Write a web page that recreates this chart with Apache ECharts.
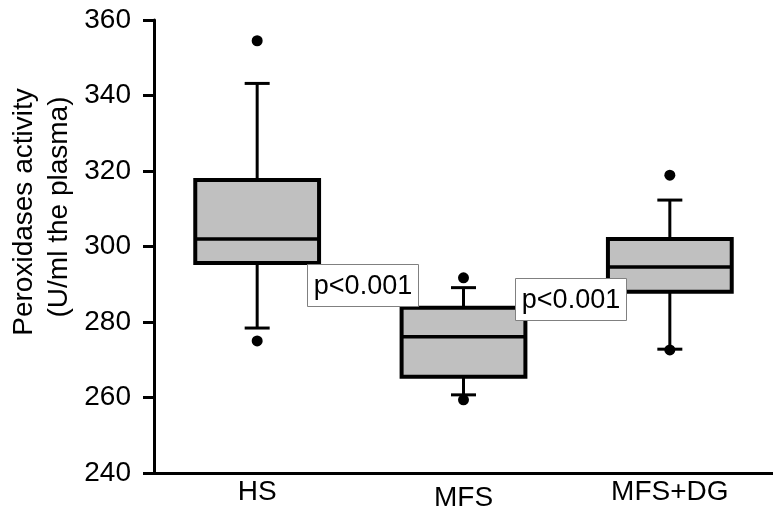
<!DOCTYPE html>
<html>
<head>
<meta charset="utf-8">
<script src="https://cdn.jsdelivr.net/npm/echarts@6/dist/echarts.min.js"></script>
<style>
  html, body { margin: 0; padding: 0; background: #fff; }
  #chart { width: 773px; height: 514px; }
</style>
</head>
<body>
<div id="chart"></div>
<script>
var categories = ['HS', 'MFS', 'MFS+DG'];
var whiskerLow = [278.4, 260.7, 272.8];
var q1 = [295.6, 265.5, 288.0];
var median = [302.0, 276.1, 294.6];
var q3 = [317.6, 283.8, 302.0];
var whiskerHigh = [343.2, 289.1, 312.3];
// outliers: [category index, value]
var outliers = [[0, 354.5], [0, 275.0], [1, 291.7], [1, 259.4], [2, 318.9], [2, 272.6]];
var yTicks = [240, 260, 280, 300, 320, 340, 360];

var font = 'Liberation Sans, Arial, sans-serif';

var boxData = []
for (let i = 0; i < categories.length; i++) {
    boxData.push([i, whiskerLow[i], q1[i], median[i], q3[i], whiskerHigh[i]])
}

function renderBox(params, api) {
    let x = api.value(0)
    let lo = api.coord([x, api.value(1)])
    let b1 = api.coord([x, api.value(2)])
    let md = api.coord([x, api.value(3)])
    let b3 = api.coord([x, api.value(4)])
    let hi = api.coord([x, api.value(5)])
    let bw = api.size([1, 0])[0] * 0.6
    let cw = 25
    let cx = md[0]
    let line = { stroke: '#000', lineWidth: 3 }
    return {
        type: 'group',
        children: [
            { type: 'line', shape: { x1: cx, y1: hi[1], x2: cx, y2: b3[1] }, style: line },
            { type: 'line', shape: { x1: cx, y1: b1[1], x2: cx, y2: lo[1] }, style: line },
            { type: 'line', shape: { x1: cx - cw / 2, y1: hi[1], x2: cx + cw / 2, y2: hi[1] }, style: line },
            { type: 'line', shape: { x1: cx - cw / 2, y1: lo[1], x2: cx + cw / 2, y2: lo[1] }, style: line },
            { type: 'rect', shape: { x: cx - bw / 2, y: b3[1], width: bw, height: b1[1] - b3[1] },
              style: { fill: '#c0c0c0', stroke: '#000', lineWidth: 4 } },
            { type: 'line', shape: { x1: cx - bw / 2, y1: md[1], x2: cx + bw / 2, y2: md[1] },
              style: { stroke: '#000', lineWidth: 3.5 } }
        ]
    }
}

function pLabel(left, top) {
    return {
        type: 'group', left: left, top: top, z: 100, zlevel: 1,
        children: [
            { type: 'rect', z: 100, shape: { x: 0, y: 0, width: 111, height: 42 },
              style: { fill: '#fff', stroke: '#808080', lineWidth: 1 } },
            { type: 'text', z: 101, x: 55.5, y: 22,
              style: { text: 'p<0.001', font: '27px ' + font, fill: '#000', align: 'center', verticalAlign: 'middle' } }
        ]
    }
}

var chart = echarts.init(document.getElementById('chart'));
chart.setOption({
    animation: false,
    backgroundColor: '#fff',
    grid: { left: 154, right: -8, top: 20, bottom: 41 },
    xAxis: {
        type: 'category',
        data: categories,
        boundaryGap: true,
        axisLine: { lineStyle: { color: '#000', width: 3 } },
        axisTick: { show: false },
        axisLabel: {
            color: '#000', fontSize: 28, fontFamily: font, margin: 5,
            formatter: function (v) { return v === 'MFS' ? '{low|' + v + '}' : v },
            rich: { low: { fontSize: 28, fontFamily: font, color: '#000', padding: [6, 0, 0, 0] } }
        }
    },
    yAxis: {
        type: 'value',
        min: yTicks[0],
        max: yTicks[yTicks.length - 1],
        interval: 20,
        splitLine: { show: false },
        axisLine: { show: true, lineStyle: { color: '#000', width: 3 } },
        axisTick: { show: true, length: 11, lineStyle: { color: '#000', width: 3 } },
        axisLabel: { color: '#000', fontSize: 28, fontFamily: font, margin: 23 }
    },
    graphic: [
        { type: 'text', x: 24, y: 212, rotation: Math.PI / 2,
          style: { text: 'Peroxidases activity', font: '28px ' + font, fill: '#000', align: 'center', verticalAlign: 'middle' } },
        { type: 'text', x: 59, y: 207, rotation: Math.PI / 2,
          style: { text: '(U/ml the plasma)', font: '28px ' + font, fill: '#000', align: 'center', verticalAlign: 'middle' } },
        pLabel(307, 264),
        pLabel(515, 278)
    ],
    series: [
        {
            type: 'custom',
            renderItem: renderBox,
            encode: { x: 0, y: [1, 2, 3, 4, 5] },
            data: boxData,
            z: 2
        },
        {
            type: 'scatter',
            data: outliers,
            symbol: 'circle',
            symbolSize: 11,
            itemStyle: { color: '#000', opacity: 1 },
            z: 3
        }
    ]
});
</script>
</body>
</html>
